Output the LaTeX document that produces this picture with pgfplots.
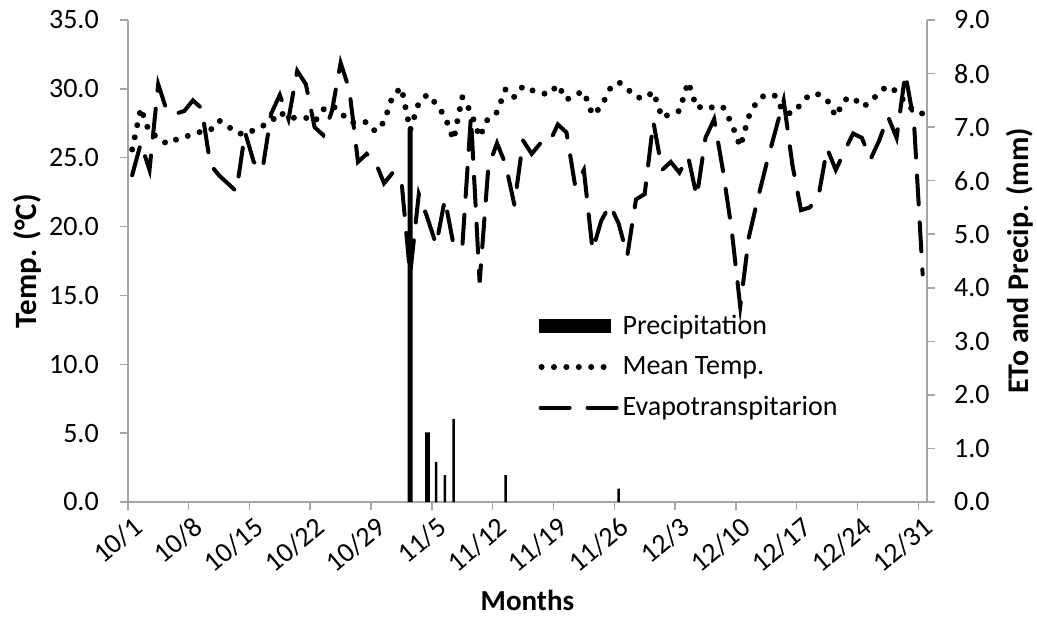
\documentclass[border=0pt]{standalone}
\usepackage{pgfplots}
\usepackage{pgfplotstable}
\pgfplotsset{compat=1.18}
\usepackage{fontspec}
\setmainfont{Carlito}
\definecolor{axgray}{RGB}{166,166,166}

% day index (0 = 10/1), mean temperature (deg C)
\pgfplotstableread{
d t
0 25.6
1 28.6
2 26.8
3 26.5
4 26.0
5 26.3
6 26.5
7 26.7
8 26.9
9 27.0
10 27.7
11 27.3
12 26.8
13 26.7
14 27.0
15 27.3
16 27.6
17 28.3
18 27.9
19 27.9
20 27.9
21 27.6
22 28.5
23 28.8
24 28.3
25 27.6
26 27.5
27 27.6
28 26.9
29 27.6
30 29.5
31 30.1
32 27.0
33 29.0
34 29.6
35 28.9
36 28.0
37 26.3
38 29.4
39 28.3
40 26.5
41 27.9
42 28.3
43 30.0
44 29.4
45 30.2
46 29.9
47 29.7
48 29.6
49 30.3
50 29.2
51 29.6
52 29.8
53 28.1
54 28.7
55 30.0
56 30.5
57 30.0
58 29.4
59 29.3
60 29.8
61 27.9
62 28.2
63 28.4
64 30.5
65 28.6
66 28.8
67 28.6
68 28.7
69 27.5
70 25.8
71 28.0
72 29.2
73 29.6
74 29.5
75 28.3
76 28.2
77 28.9
78 29.6
79 29.6
80 29.2
81 28.0
82 29.2
83 29.4
84 28.7
85 29.0
86 29.8
87 30.2
88 29.8
89 29.0
90 28.4
91 28.2
}\temptable

% day index, evapotranspiration (mm)
\pgfplotstableread{
d e
0 6.1
1 6.7
2 6.2
3 7.8
4 7.3
5 7.25
6 7.3
7 7.5
8 7.35
9 6.3
10 6.1
11 5.95
12 5.8
13 6.9
14 6.35
15 6.2
16 7.25
17 7.6
18 7.15
19 8.05
20 7.8
21 7.0
22 6.85
23 7.3
24 8.2
25 7.7
26 6.35
27 6.5
28 6.35
29 5.95
30 6.15
31 6.0
32 4.25
33 5.75
34 5.3
35 4.8
36 5.65
37 4.8
38 4.75
39 7.2
40 4.1
41 6.25
42 6.7
43 6.3
44 5.55
45 6.75
46 6.5
47 6.7
48 6.7
49 7.05
50 6.9
51 5.9
52 6.2
53 4.7
54 5.25
55 5.55
56 5.2
57 4.6
58 5.65
59 5.75
60 7.1
61 6.2
62 6.35
63 6.15
64 6.45
65 5.7
66 6.8
67 7.15
68 6.2
69 5.1
70 3.65
71 4.95
72 5.65
73 6.3
74 6.9
75 7.5
76 6.3
77 5.45
78 5.5
79 5.7
80 6.6
81 6.2
82 6.55
83 6.88
84 6.8
85 6.4
86 6.75
87 7.2
88 6.8
89 8.0
90 7.1
91 4.25
}\etotable

% precipitation (mm)
\pgfplotstableread{
d p
32 6.95
34 1.3
}\precipthick
\pgfplotstableread{
d p
35 0.75
36 0.5
37 1.55
43 0.5
56 0.25
}\precipthin

\pgfplotsset{
  common/.style={
    scale only axis, width=399.6pt, height=241pt,
    xmin=0, xmax=92,
    axis line style={-, draw=axgray, line width=0.75pt},
    tick align=outside, major tick length=4pt,
    tick style={draw=axgray, line width=0.75pt},
    tick label style={font=\fontsize{14}{16}\selectfont},
    /pgf/number format/assume math mode=true,
  },
}
\tikzset{
  meantemp/.style={black, line width=3pt, line cap=round, dash pattern=on 0pt off 6.2pt},
  eto/.style={black, line width=2pt, line cap=round, dash pattern=on 14.5pt off 9pt},
}

\begin{document}
\begin{tikzpicture}
\begin{axis}[common, name=main,
  ymin=0, ymax=35,
  axis x line*=bottom, axis y line*=left,
  xtick={0,7,...,91},
  xticklabels={10/1,10/8,10/15,10/22,10/29,11/5,11/12,11/19,11/26,12/3,12/10,12/17,12/24,12/31},
  xticklabel style={xshift=2pt, yshift=-1pt, rotate=40, anchor=north east, inner sep=1pt},
  ytick={0,5,...,35},
  yticklabel style={xshift=-7pt},
  yticklabel={\pgfmathprintnumber[fixed,fixed zerofill,precision=1]{\tick}},
]
\addplot[meantemp] table[x expr=\thisrow{d}+0.5, y=t]{\temptable};
\end{axis}

\begin{axis}[common,
  ymin=0, ymax=9,
  axis y line*=right, axis x line=none,
  ytick={0,1,...,9},
  yticklabel style={xshift=6pt},
  yticklabel={\pgfmathprintnumber[fixed,fixed zerofill,precision=1]{\tick}},
  legend style={at={(0.506,0.405)}, anchor=north west, draw=none, fill=none,
    font=\fontsize{14}{16}\selectfont, row sep=5.5pt},
  legend cell align=left,
]
\addplot[ybar, bar width=2.4pt, fill=black, draw=none,
  legend image code/.code={\fill[black] (0pt,-3.5pt) rectangle (36pt,3.5pt);}]
  table[x expr=\thisrow{d}+0.5, y=p]{\precipthick};
\addlegendentry{Precipitation}
\addplot[ybar, bar width=1.2pt, fill=black, draw=none, forget plot]
  table[x expr=\thisrow{d}+0.5, y=p]{\precipthin};
\addlegendimage{legend image code/.code={\draw[meantemp] (1.5pt,0pt) -- (38pt,0pt);}}
\addlegendentry{Mean Temp.}
\addplot[eto, legend image code/.code={\draw[eto] (1pt,0pt) -- (39pt,0pt);}]
  table[x expr=\thisrow{d}+0.5, y=e]{\etotable};
\addlegendentry{Evapotranspitarion}
\end{axis}

\node[rotate=90, font=\bfseries\fontsize{15.5}{18}\selectfont] at ([xshift=-50pt]main.west) {Temp. (°C)};
\node[rotate=90, font=\bfseries\fontsize{15}{18}\selectfont] at ([xshift=46.5pt]main.east) {ETo and  Precip. (mm)};
\node[font=\bfseries\fontsize{14.5}{17}\selectfont] at ([yshift=-49pt]main.south) {Months};

\pgfresetboundingbox
\path ([shift={(-63.9pt,-61.5pt)}]main.south west) rectangle ([shift={(55pt,10pt)}]main.north east);
\end{tikzpicture}
\end{document}
